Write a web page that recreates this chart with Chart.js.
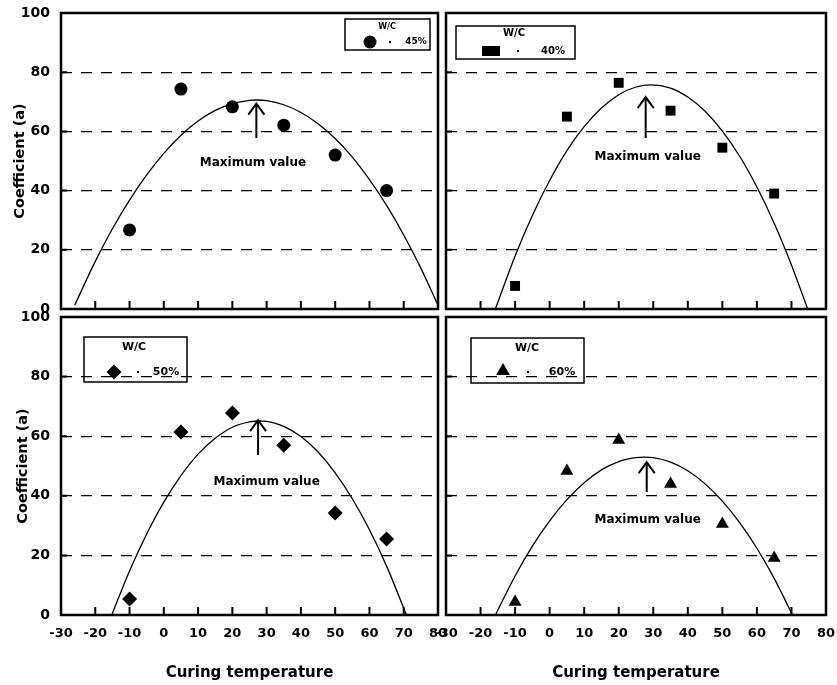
<!DOCTYPE html>
<html>
<head>
<meta charset="utf-8">
<script src="https://cdn.jsdelivr.net/npm/chart.js@4.4.1/dist/chart.umd.min.js"></script>
<style>
  html, body { margin: 0; padding: 0; background: #fff; }
  #wrap { position: relative; width: 837px; height: 685px; }
  #wrap canvas { position: absolute; left: 0; top: 0; }
</style>
</head>
<body>
<div id="wrap">
  <canvas id="wc45" width="837" height="685"></canvas>
  <canvas id="wc40" width="837" height="685"></canvas>
  <canvas id="wc50" width="837" height="685"></canvas>
  <canvas id="wc60" width="837" height="685"></canvas>
</div>
<script>
// measured points
const temps = [-10, 5, 20, 35, 50, 65];
const coefWc45 = [26.7, 74.3, 68.3, 62.1, 52, 40];
const coefWc40 = [7.8, 65, 76.4, 67, 54.5, 39];
const coefWc50 = [5.4, 61.4, 67.8, 57, 34.2, 25.5];
const coefWc60 = [4.4, 48.3, 58.7, 44, 30.5, 19.1];

// fitted curves
const fitX45 = [-26, -20, -15, -10, -5, 0, 5, 10, 15, 20, 25, 27, 30, 35, 40, 45, 50, 55, 60, 65, 70, 75, 80];
const fitY45 = [1.3, 16.1, 27.1, 36.8, 45.3, 52.6, 58.7, 63.5, 67.1, 69.4, 70.5, 70.6, 70.4, 69.0, 66.4, 62.6, 57.6, 51.3, 43.7, 35.0, 25.0, 13.8, 1.3];
const fitX40 = [-15.7, -10, -5, 0, 5, 10, 15, 20, 25, 29.5, 35, 40, 45, 50, 55, 60, 65, 70, 74.7];
const fitY40 = [0, 17.9, 31.6, 43.4, 53.5, 61.6, 67.9, 72.4, 75.0, 75.7, 74.6, 71.6, 66.8, 60.1, 51.6, 41.2, 29.0, 14.9, 0];
const fitX50 = [-15.2, -10, -5, 0, 5, 10, 15, 20, 25, 27.8, 30, 35, 40, 45, 50, 55, 60, 65, 70.8];
const fitY50 = [0, 14.8, 27.2, 37.9, 46.8, 54.0, 59.3, 63.0, 64.8, 65.1, 65.0, 63.3, 59.9, 54.7, 47.7, 39.0, 28.6, 16.4, 0];
const fitX60 = [-15.7, -10, -5, 0, 5, 10, 15, 20, 25, 27.3, 30, 35, 40, 45, 50, 55, 60, 65, 70.3];
const fitY60 = [0, 13.1, 23.1, 31.6, 38.7, 44.4, 48.7, 51.5, 52.8, 53.0, 52.8, 51.3, 48.4, 44.0, 38.2, 31.0, 22.4, 12.3, 0];

// "Maximum value" arrows: [x, yFrom, yTo] and label [x, y]
const arrow45 = [27, 57.8, 69.4], note45 = [26, 49.3];
const arrow40 = [27.8, 57.8, 71.6], note40 = [28.4, 51.4];
const arrow50 = [27.5, 53.7, 65.4], note50 = [30, 44.6];
const arrow60 = [28.1, 41.3, 51.3], note60 = [28.4, 31.9];

const FONT = "'DejaVu Sans', 'Liberation Sans', sans-serif";
Chart.defaults.font.family = FONT;
Chart.defaults.font.weight = 'bold';
Chart.defaults.color = '#000';

function drawMarker(ctx, style, x, y, r) {
    ctx.beginPath();
    if (style === 'circle') {
        ctx.arc(x, y, r, 0, Math.PI * 2);
    } else if (style === 'rect') {
        ctx.rect(x - 9, y - 5, 18, 10);
    } else if (style === 'rectRot') {
        ctx.moveTo(x - r, y);
        ctx.lineTo(x, y - r);
        ctx.lineTo(x + r, y);
        ctx.lineTo(x, y + r);
        ctx.closePath();
    } else {
        ctx.moveTo(x, y - r);
        ctx.lineTo(x + r * 0.87, y + r * 0.5);
        ctx.lineTo(x - r * 0.87, y + r * 0.5);
        ctx.closePath();
    }
    ctx.fillStyle = '#000';
    ctx.fill();
}

const panelDecor = {
    id: 'panelDecor',
    afterDraw(chart, args, o) {
        const ctx = chart.ctx;
        const area = chart.chartArea;
        const xs = chart.scales.x, ys = chart.scales.y;
        ctx.save();
        ctx.strokeStyle = '#000';
        ctx.fillStyle = '#000';

        // inward tick marks
        ctx.lineWidth = 2;
        ctx.beginPath();
        xs.ticks.forEach(t => {
            if (t.value <= xs.min || t.value >= xs.max) return;
            const px = xs.getPixelForValue(t.value);
            ctx.moveTo(px, area.bottom);
            ctx.lineTo(px, area.bottom - 8);
        });
        ys.ticks.forEach(t => {
            if (t.value <= ys.min || t.value >= ys.max) return;
            const py = ys.getPixelForValue(t.value);
            ctx.moveTo(area.left, py);
            ctx.lineTo(area.left + 6, py);
        });
        ctx.stroke();

        // frame
        ctx.lineWidth = 2.5;
        ctx.strokeRect(area.left, area.top, area.right - area.left, area.bottom - area.top);

        // arrow + note
        const ax = xs.getPixelForValue(o.arrow[0]);
        const a0 = ys.getPixelForValue(o.arrow[1]);
        const a1 = ys.getPixelForValue(o.arrow[2]);
        ctx.lineWidth = 2;
        ctx.beginPath();
        ctx.moveTo(ax, a0);
        ctx.lineTo(ax, a1);
        ctx.moveTo(ax - 8, a1 + 11);
        ctx.lineTo(ax, a1);
        ctx.lineTo(ax + 8, a1 + 11);
        ctx.stroke();
        ctx.font = 'bold 12px ' + FONT;
        ctx.textAlign = 'center';
        ctx.textBaseline = 'middle';
        ctx.fillText('Maximum value', xs.getPixelForValue(o.note[0]), ys.getPixelForValue(o.note[1]));

        // legend box
        const lg = o.legend;
        ctx.lineWidth = 1.5;
        ctx.strokeRect(lg.box[0], lg.box[1], lg.box[2], lg.box[3]);
        ctx.font = 'bold ' + lg.titleSize + 'px ' + FONT;
        ctx.fillText('W/C', lg.title[0], lg.title[1]);
        drawMarker(ctx, lg.style, lg.marker[0], lg.marker[1], lg.radius);
        ctx.fillRect(lg.dot[0] - 1, lg.dot[1] - 1, 2, 2);
        ctx.font = 'bold ' + lg.labelSize + 'px ' + FONT;
        ctx.fillText(lg.text, lg.label[0], lg.label[1]);
        ctx.restore();
    }
};

function toPoints(xv, yv) {
    return xv.map((x, i) => ({x: x, y: yv[i]}));
}

function buildPanel(cfg) {
    return new Chart(document.getElementById(cfg.id), {
        type: 'scatter',
        data: {
            datasets: [{
                data           : toPoints(temps, cfg.values),
                pointStyle     : cfg.style,
                pointRadius    : cfg.radius,
                backgroundColor: '#000',
                borderColor    : '#000',
                borderWidth    : 0
            }, {
                type                  : 'line',
                data                  : toPoints(cfg.fitX, cfg.fitY),
                borderColor           : '#000',
                borderWidth           : 1.3,
                pointRadius           : 0,
                fill                  : false,
                cubicInterpolationMode: 'monotone'
            }]
        },
        options: {
            responsive: false,
            animation : false,
            events    : [],
            layout    : {padding: cfg.padding},
            plugins   : {
                legend    : {display: false},
                tooltip   : {enabled: false},
                panelDecor: {arrow: cfg.arrow, note: cfg.note, legend: cfg.legend}
            },
            scales: {
                x: {
                    type  : 'linear',
                    min   : -30,
                    max   : 80,
                    ticks : {stepSize: 10, display: cfg.showX, padding: 11, font: {size: 13, weight: 'bold'}, color: '#000'},
                    grid  : {display: false, drawTicks: false},
                    border: {display: false},
                    title : {
                        display: cfg.showX,
                        text   : 'Curing temperature',
                        color  : '#000',
                        font   : {size: 15, weight: 'bold'},
                        padding: {top: 0, bottom: 3}
                    },
                    afterFit: s => {
                        s.height = cfg.xHeight;
                        s.paddingLeft = 0;
                        s.paddingRight = 0;
                    }
                },
                y: {
                    min   : 0,
                    max   : 100,
                    ticks : {stepSize: 20, display: cfg.showY, padding: 11, font: {size: 14, weight: 'bold'}, color: '#000'},
                    grid  : {
                        drawTicks: false,
                        lineWidth: 1.2,
                        color    : c => (c.tick && (c.tick.value === 0 || c.tick.value === 100)) ? 'rgba(0,0,0,0)' : '#000'
                    },
                    border: {display: false, dash: [11, 9]},
                    title : {
                        display: cfg.showY,
                        text   : 'Coefficient (a)',
                        color  : '#000',
                        font   : {size: 14.5, weight: 'bold'},
                        padding: {top: cfg.yTitlePad, bottom: 0}
                    },
                    afterFit: s => {
                        s.width = cfg.yWidth;
                        s.paddingTop = 0;
                        s.paddingBottom = 0;
                    }
                }
            }
        },
        plugins: [panelDecor]
    });
}

buildPanel({
    id: 'wc45', values: coefWc45, fitX: fitX45, fitY: fitY45, style: 'circle', radius: 6.5,
    arrow: arrow45, note: note45,
    padding: {left: 0, top: 13, right: 399, bottom: 376}, yWidth: 61, xHeight: 0,
    showX: false, showY: true, yTitlePad: 12,
    legend: {box: [345, 19, 85, 31], title: [387, 27], titleSize: 8, style: 'circle', radius: 6.5,
             marker: [370, 42], dot: [390, 42], label: [416, 42], labelSize: 9, text: '45%'}
});
buildPanel({
    id: 'wc40', values: coefWc40, fitX: fitX40, fitY: fitY40, style: 'rect', radius: 7,
    arrow: arrow40, note: note40,
    padding: {left: 446, top: 13, right: 11, bottom: 376}, yWidth: 0, xHeight: 0,
    showX: false, showY: false, yTitlePad: 0,
    legend: {box: [456, 26, 119, 33], title: [514, 33], titleSize: 10, style: 'rect', radius: 7,
             marker: [491, 51], dot: [518, 51], label: [553, 51], labelSize: 10, text: '40%'}
});
buildPanel({
    id: 'wc50', values: coefWc50, fitX: fitX50, fitY: fitY50, style: 'rectRot', radius: 7.5,
    arrow: arrow50, note: note50,
    padding: {left: 0, top: 317, right: 399, bottom: 0}, yWidth: 61, xHeight: 70,
    showX: true, showY: true, yTitlePad: 15,
    legend: {box: [84, 337, 103, 45], title: [134, 347], titleSize: 11, style: 'rectRot', radius: 7.5,
             marker: [114, 372], dot: [138, 372], label: [166, 372], labelSize: 11, text: '50%'}
});
buildPanel({
    id: 'wc60', values: coefWc60, fitX: fitX60, fitY: fitY60, style: 'triangle', radius: 7.5,
    arrow: arrow60, note: note60,
    padding: {left: 446, top: 317, right: 11, bottom: 0}, yWidth: 0, xHeight: 70,
    showX: true, showY: false, yTitlePad: 0,
    legend: {box: [471, 338, 113, 45], title: [527, 348], titleSize: 11, style: 'triangle', radius: 8,
             marker: [503, 371], dot: [528, 372], label: [562, 372], labelSize: 11, text: '60%'}
});
</script>
</body>
</html>
